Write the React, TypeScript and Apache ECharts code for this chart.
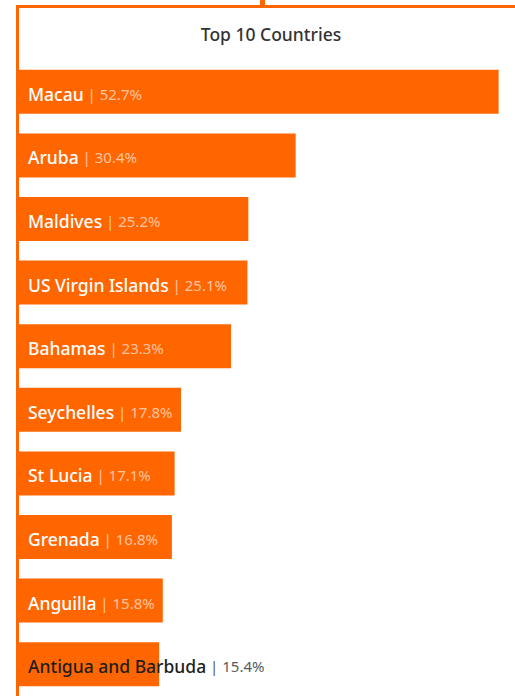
import React, { useEffect, useRef } from "react";
import * as echarts from "echarts";

const countries = [
  "Macau",
  "Aruba",
  "Maldives",
  "US Virgin Islands",
  "Bahamas",
  "Seychelles",
  "St Lucia",
  "Grenada",
  "Anguilla",
  "Antigua and Barbuda",
];
const shares = [52.7, 30.4, 25.2, 25.1, 23.3, 17.8, 17.1, 16.8, 15.8, 15.4];
const darkLabelCountries = ["Antigua and Barbuda"];
const titleText = "Top 10 Countries";

const ORANGE = "#ff6600";
const FONT = "'Noto Sans', 'Open Sans', sans-serif";

export default function App() {
  const ref = useRef<HTMLDivElement>(null);
  useEffect(() => {
    document.body.style.margin = "0";
    const chart = echarts.init(ref.current!, null, { renderer: "svg" });
    const data = shares.map((v, i) => {
      const dark = darkLabelCountries.includes(countries[i]);
      return {
        value: v,
        name: countries[i],
        label: dark
          ? {
              rich: {
                n: { color: "#1e1e1e", fontSize: 17.5, fontWeight: 500, fontFamily: FONT, padding: [4, 0, 0, 0] },
                v: { color: "#5a5a5a", fontSize: 15, fontFamily: FONT, padding: [4, 0, 0, 0] },
              },
            }
          : undefined,
      };
    });
    chart.setOption({
      animation: false,
      grid: { left: 19, right: 0, top: 60, bottom: -1, containLabel: false },
      xAxis: {
        type: "value",
        min: 0,
        max: 54.5,
        show: false,
      },
      yAxis: {
        type: "category",
        data: countries,
        inverse: true,
        show: false,
      },
      graphic: [
        {
          type: "line",
          shape: { x1: 16, y1: 6.5, x2: 515, y2: 6.5 },
          style: { stroke: ORANGE, lineWidth: 3 },
          z: 10,
        },
        {
          type: "line",
          shape: { x1: 17.5, y1: 5, x2: 17.5, y2: 696 },
          style: { stroke: ORANGE, lineWidth: 3 },
          z: 10,
        },
        {
          type: "rect",
          shape: { x: 260, y: 0, width: 5, height: 7 },
          style: { fill: ORANGE },
          z: 10,
        },
        {
          type: "text",
          x: 271,
          y: 34,
          style: {
            text: titleText,
            fill: "#333",
            fontSize: 17.5,
            fontWeight: 500,
            fontFamily: FONT,
            align: "center",
            verticalAlign: "middle",
          },
        },
      ],
      series: [
        {
          type: "bar",
          data,
          barWidth: 44,
          itemStyle: { color: ORANGE },
          label: {
            show: true,
            position: "insideLeft",
            distance: 9,
            formatter: (p: any) => `{n|${p.name}}{v| | ${p.value.toFixed(1)}%}`,
            rich: {
              n: { color: "#ffffff", fontSize: 17.5, fontWeight: 500, fontFamily: FONT, padding: [4, 0, 0, 0] },
              v: { color: "#ffc4a0", fontSize: 15, fontFamily: FONT, padding: [4, 0, 0, 0] },
            },
          },
        },
      ],
    });
    return () => chart.dispose();
  }, []);
  return <div ref={ref} style={{ position: "absolute", left: 0, top: 0, width: 515, height: 696 }} />;
}
